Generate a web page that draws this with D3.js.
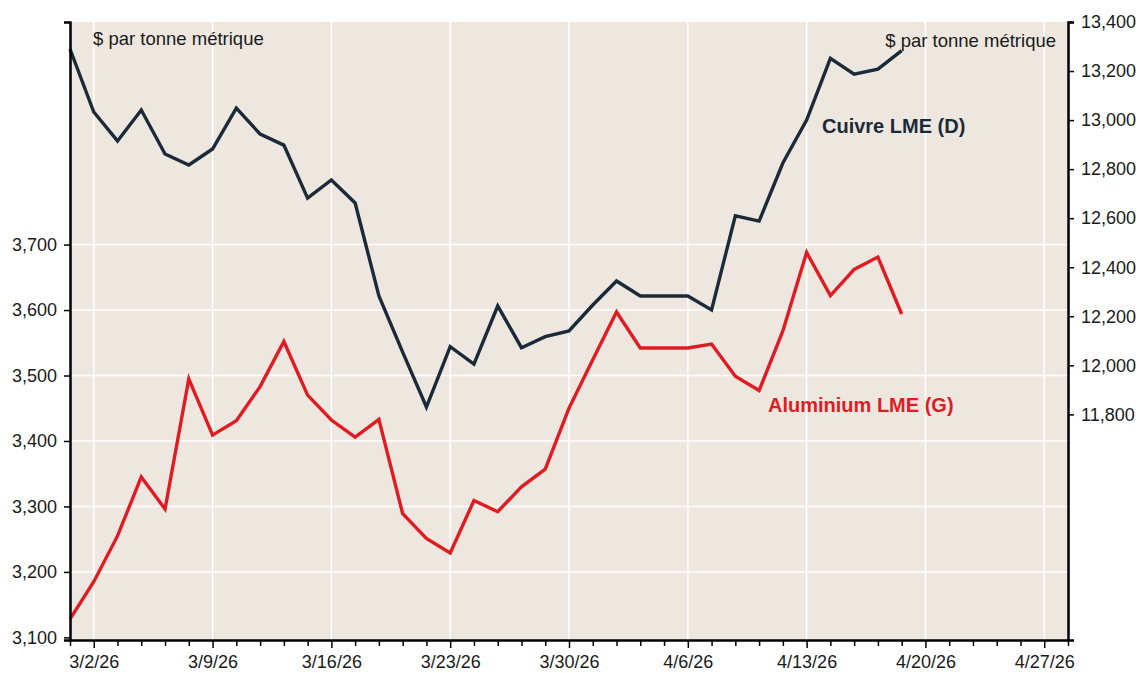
<!DOCTYPE html>
<html>
<head>
<meta charset="utf-8">
<script src="https://cdn.jsdelivr.net/npm/d3@7"></script>
<style>
  html, body { margin: 0; padding: 0; background: #fff; }
  svg text { font-family: "Liberation Sans", Arial, sans-serif; fill: #1a1a1a; }
</style>
</head>
<body>
<div id="chart"></div>
<script>
const dates = [
  '2026-02-27',
  '2026-03-02', '2026-03-03', '2026-03-04', '2026-03-05', '2026-03-06',
  '2026-03-09', '2026-03-10', '2026-03-11', '2026-03-12', '2026-03-13',
  '2026-03-16', '2026-03-17', '2026-03-18', '2026-03-19', '2026-03-20',
  '2026-03-23', '2026-03-24', '2026-03-25', '2026-03-26', '2026-03-27',
  '2026-03-30', '2026-03-31', '2026-04-01', '2026-04-02', '2026-04-03',
  '2026-04-06', '2026-04-07', '2026-04-08', '2026-04-09', '2026-04-10',
  '2026-04-13', '2026-04-14', '2026-04-15', '2026-04-16', '2026-04-17'
]

const copper = [
  13290,
  13033, 12915, 13041, 12862, 12817,
  12882, 13049, 12943, 12898, 12682,
  12756, 12662, 12283, 12054, 11830,
  12076, 12005, 12242, 12072, 12117,
  12140, 12246, 12344, 12283, 12283,
  12283, 12226, 12610, 12588, 12825,
  13000, 13252, 13187, 13208, 13283
]

const aluminium = [
  3128,
  3185, 3255, 3345, 3296, 3495,
  3409, 3431, 3483, 3552, 3470,
  3432, 3406, 3433, 3289, 3251,
  3229, 3309, 3292, 3330, 3357,
  3450, 3524, 3597, 3542, 3542,
  3542, 3548, 3499, 3477, 3568,
  3688, 3622, 3662, 3681, 3594
]

const leftTicks = [3100, 3200, 3300, 3400, 3500, 3600, 3700]
const rightTicks = [11800, 12000, 12200, 12400, 12600, 12800, 13000, 13200, 13400]

const unitLabel = '$ par tonne métrique'
const copperLabel = 'Cuivre LME (D)'
const aluLabel = 'Aluminium LME (G)'

const width = 1141
const height = 673
const margin = { top: 22, right: 73, bottom: 33, left: 70 }
const innerW = width - margin.left - margin.right
const innerH = height - margin.top - margin.bottom

const parse = d3.timeParse('%Y-%m-%d')
const fmt = d3.timeFormat('%Y-%m-%d')

// business days on the axis, from the first point to the end of the frame
const axisDays = d3.timeDay.range(parse('2026-02-27'), parse('2026-04-29'))
  .filter(d => d.getDay() !== 0 && d.getDay() !== 6)
  .map(fmt)

const x = d3.scalePoint()
  .domain(axisDays)
  .range([margin.left, margin.left + innerW])

const yL = d3.scaleLinear()
  .domain([3096, 4040])
  .range([margin.top + innerH, margin.top])

const yR = d3.scaleLinear()
  .domain([10880, 13400])
  .range([margin.top + innerH, margin.top])

const svg = d3.select('#chart').append('svg')
  .attr('width', width)
  .attr('height', height)

svg.append('rect')
  .attr('x', margin.left)
  .attr('y', margin.top)
  .attr('width', innerW)
  .attr('height', innerH)
  .attr('fill', '#eee7e0')

const mondays = axisDays.filter(d => parse(d).getDay() === 1)

// grid
svg.append('g')
  .selectAll('line')
  .data(leftTicks.slice(1))
  .join('line')
  .attr('x1', margin.left)
  .attr('x2', margin.left + innerW)
  .attr('y1', d => yL(d))
  .attr('y2', d => yL(d))
  .attr('stroke', '#fff')
  .attr('stroke-width', 1.5)

svg.append('g')
  .selectAll('line')
  .data(mondays)
  .join('line')
  .attr('x1', d => x(d))
  .attr('x2', d => x(d))
  .attr('y1', margin.top)
  .attr('y2', margin.top + innerH)
  .attr('stroke', '#fff')
  .attr('stroke-width', 1.5)

// lines
const lineL = d3.line()
  .x((d, i) => x(dates[i]))
  .y(d => yL(d))

const lineR = d3.line()
  .x((d, i) => x(dates[i]))
  .y(d => yR(d))

svg.append('path')
  .datum(aluminium)
  .attr('d', lineL)
  .attr('fill', 'none')
  .attr('stroke', '#e01b22')
  .attr('stroke-width', 3.4)

svg.append('path')
  .datum(copper)
  .attr('d', lineR)
  .attr('fill', 'none')
  .attr('stroke', '#1b2a38')
  .attr('stroke-width', 3.4)

// axes
const bottomAxis = d3.axisBottom(x)
  .tickValues(axisDays)
  .tickSizeInner(6)
  .tickSizeOuter(0)
  .tickFormat(d => parse(d).getDay() === 1 ? d3.timeFormat('%-m/%-d/%y')(parse(d)) : '')

const gx = svg.append('g')
  .attr('transform', `translate(0,${margin.top + innerH})`)
  .call(bottomAxis)
gx.select('.domain').attr('stroke', '#000').attr('stroke-width', 2.5)
gx.selectAll('.tick line').attr('stroke', '#000').attr('stroke-width', 1.5)
  .attr('y2', d => parse(d).getDay() === 1 ? 8 : 6)
gx.selectAll('.tick text')
  .attr('y', 15)
  .style('font-size', '18px')
  .attr('fill', '#1a1a1a')

const gl = svg.append('g')
  .attr('transform', `translate(${margin.left},0)`)
  .call(d3.axisLeft(yL).tickValues(leftTicks).tickFormat(d3.format(',')).tickSizeOuter(0).tickSize(6))
gl.select('.domain').attr('stroke', '#000').attr('stroke-width', 2.5)
gl.selectAll('.tick line').attr('stroke', '#000').attr('stroke-width', 1.5)
gl.selectAll('.tick text')
  .attr('x', -13)
  .style('font-size', '18px')
  .attr('fill', '#1a1a1a')

const gr = svg.append('g')
  .attr('transform', `translate(${margin.left + innerW},0)`)
  .call(d3.axisRight(yR).tickValues(rightTicks).tickFormat(d3.format(',')).tickSizeOuter(0).tickSize(6))
gr.select('.domain').attr('stroke', '#000').attr('stroke-width', 2.5)
gr.selectAll('.tick line').attr('stroke', '#000').attr('stroke-width', 1.5)
gr.selectAll('.tick text')
  .attr('x', 13)
  .style('font-size', '18px')
  .attr('fill', '#1a1a1a')

// labels
svg.append('text')
  .attr('x', 93)
  .attr('y', 45)
  .style('font-size', '18.5px')
  .text(unitLabel)

svg.append('text')
  .attr('x', 1056)
  .attr('y', 47)
  .attr('text-anchor', 'end')
  .style('font-size', '18.5px')
  .text(unitLabel)

svg.append('text')
  .attr('x', 822)
  .attr('y', 133)
  .style('font-size', '20px')
  .style('font-weight', 'bold')
  .style('fill', '#1b2a38')
  .text(copperLabel)

svg.append('text')
  .attr('x', 768)
  .attr('y', 412)
  .style('font-size', '20px')
  .style('font-weight', 'bold')
  .style('fill', '#e01b22')
  .text(aluLabel)
</script>
</body>
</html>
